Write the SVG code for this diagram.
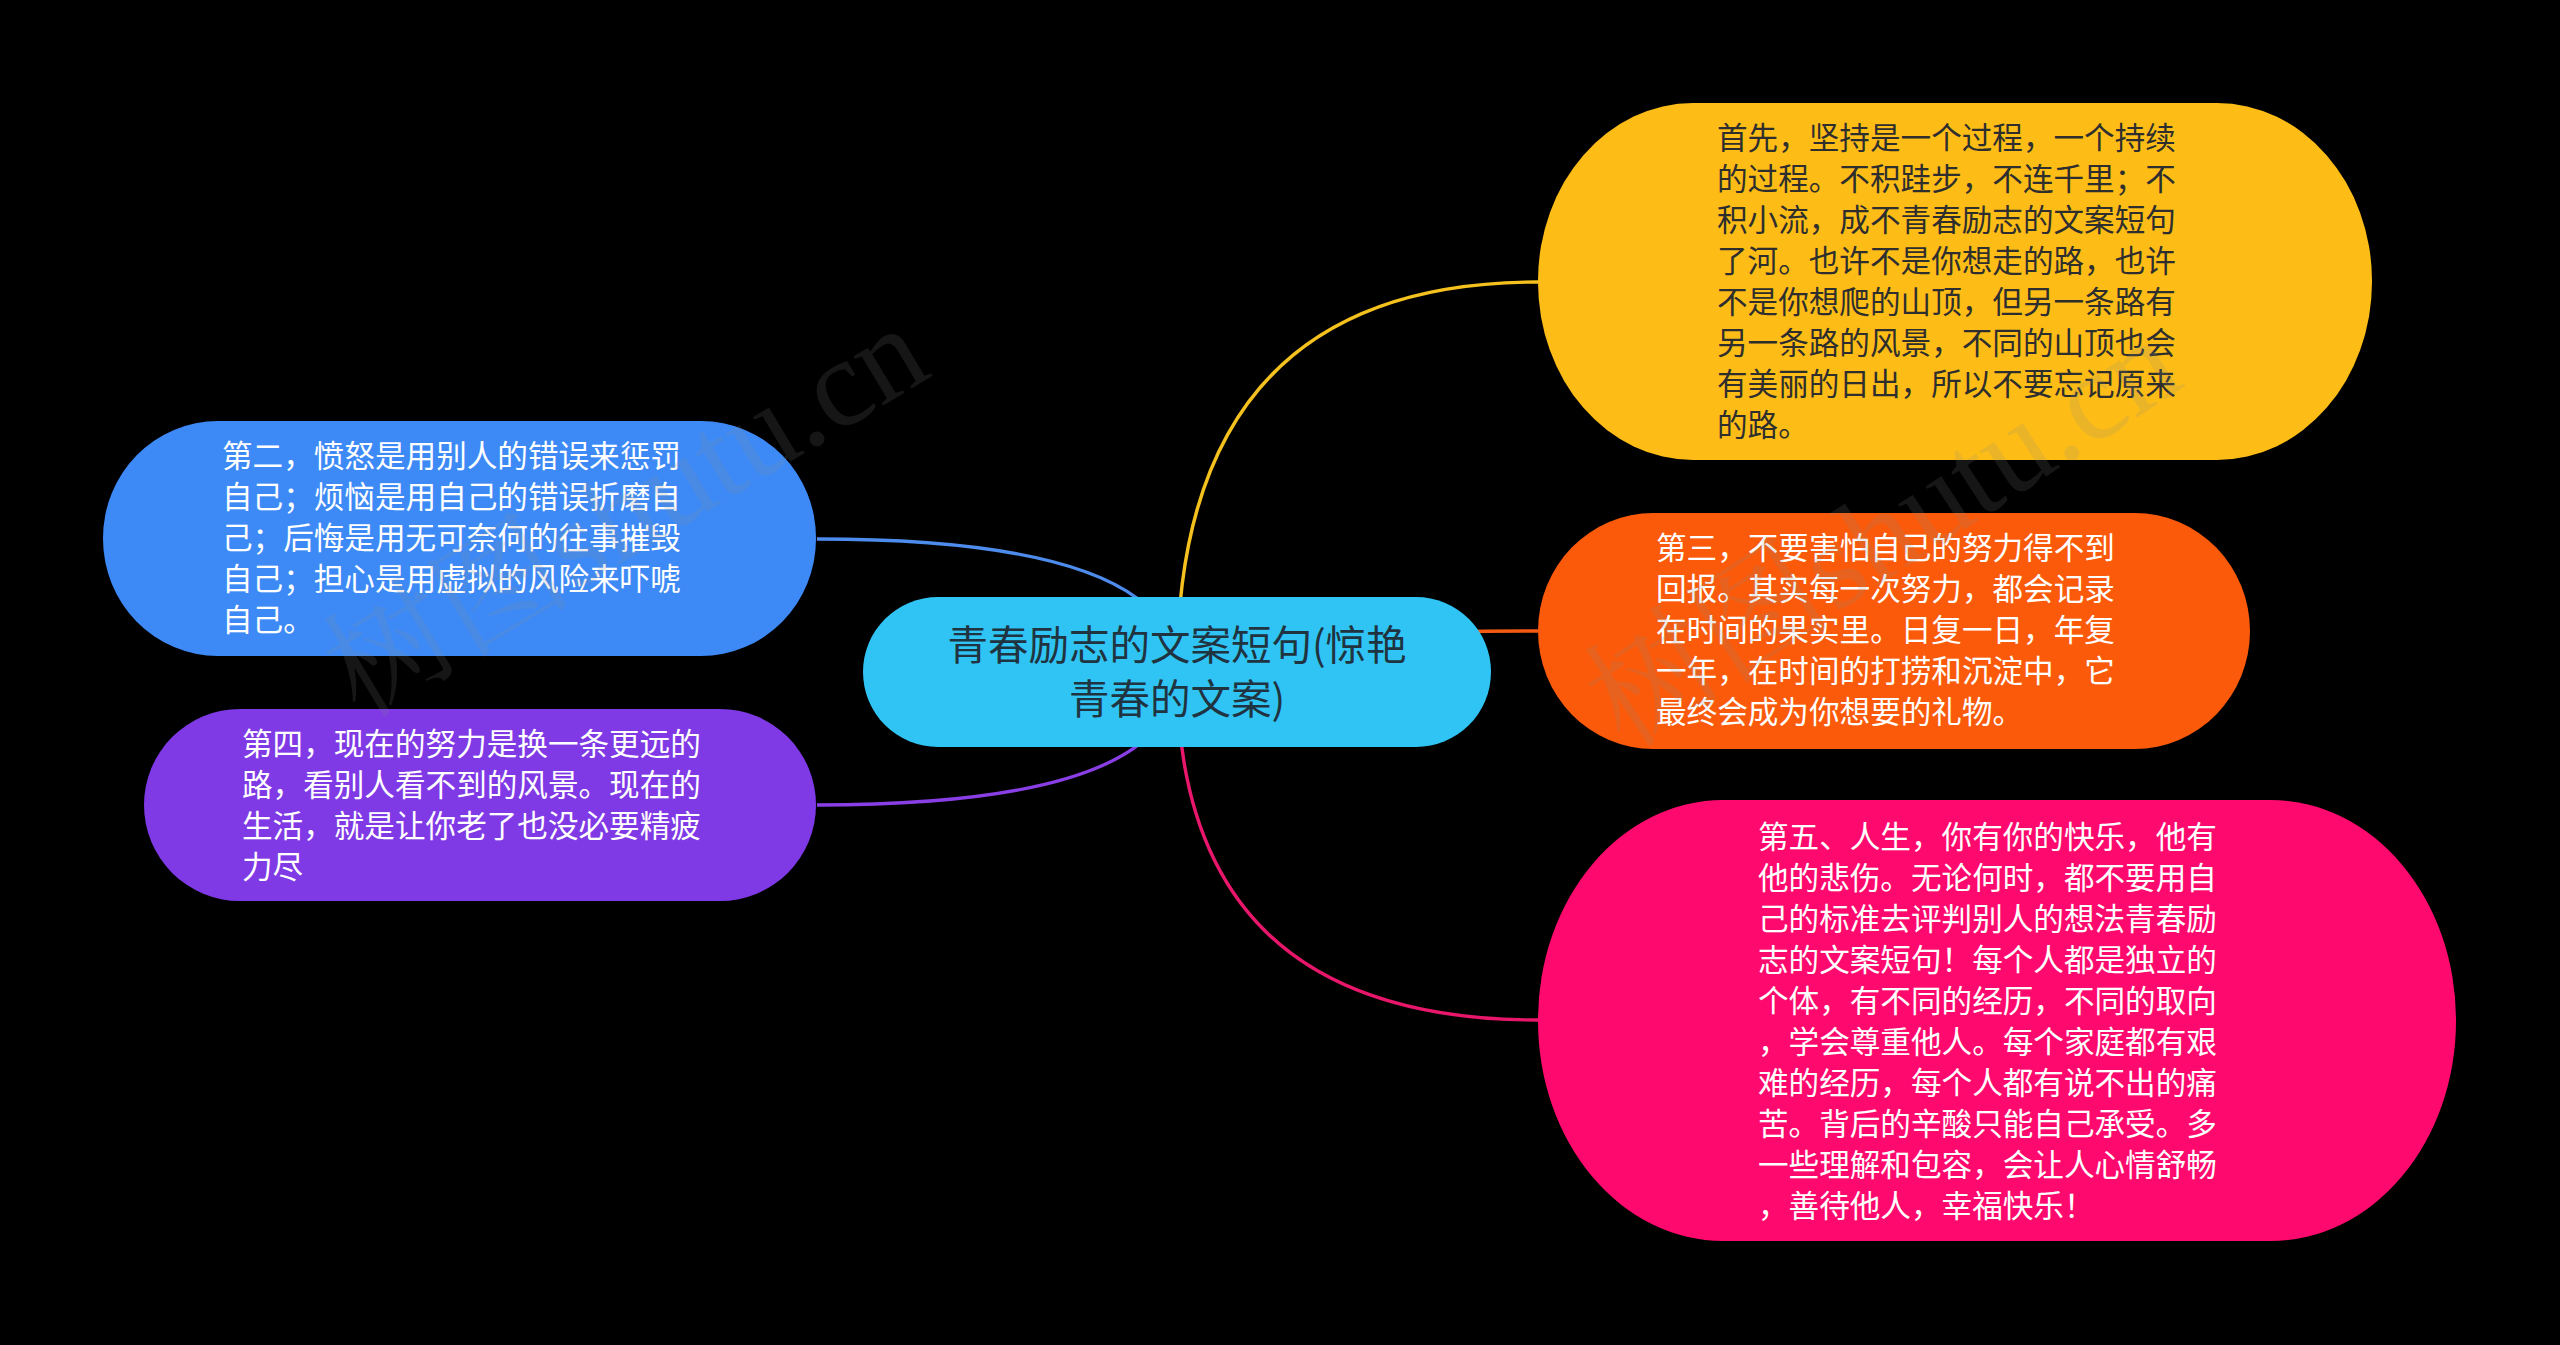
<svg xmlns="http://www.w3.org/2000/svg" width="2560" height="1345" viewBox="0 0 2560 1345">
<style>
.t{font-family:"Noto Sans CJK SC","Noto Sans",sans-serif;font-size:30.6px;fill:#ffffff}
.dk{fill:#2e2e2e}
.ct{font-family:"Noto Sans CJK SC","Noto Sans",sans-serif;font-size:40.5px;fill:#1f3440;text-anchor:middle}
.ln{fill:none;stroke-width:3.4}
.wm{font-family:"Liberation Serif","Noto Serif CJK SC","Noto Sans CJK SC",serif;font-size:125px;fill:#8a8a8a;opacity:0.16}
</style>
<rect width="2560" height="1345" fill="#000000"/>
<g id="connectors">
<path class="ln" stroke="#f5c11e" d="M1177,672 Q1177,282 1538,282"/>
<path class="ln" stroke="#f55a12" d="M1177,672 Q1177,631 1538,631"/>
<path class="ln" stroke="#e8176b" d="M1177,672 Q1177,1020 1538,1020"/>
<path class="ln" stroke="#4d8cec" d="M1177,672 Q1177,539 817,539"/>
<path class="ln" stroke="#8a3fe6" d="M1177,672 Q1177,805 817,805"/>
</g>
<g id="center">
<rect x="863" y="597" width="628" height="150" rx="75" ry="75" fill="#30c4f5"/>
<text class="ct" x="1177" y="660">青春励志的文案短句(惊艳</text>
<text class="ct" x="1177" y="714">青春的文案)</text>
</g>
<g id="node-yellow">
<rect x="1538" y="103" width="834" height="357" rx="155" ry="178" fill="#fdbd16"/>
<text class="t dk" x="1717" y="149">首先，坚持是一个过程，一个持续</text>
<text class="t dk" x="1717" y="190">的过程。不积跬步，不连千里；不</text>
<text class="t dk" x="1717" y="231">积小流，成不青春励志的文案短句</text>
<text class="t dk" x="1717" y="272">了河。也许不是你想走的路，也许</text>
<text class="t dk" x="1717" y="313">不是你想爬的山顶，但另一条路有</text>
<text class="t dk" x="1717" y="354">另一条路的风景，不同的山顶也会</text>
<text class="t dk" x="1717" y="395">有美丽的日出，所以不要忘记原来</text>
<text class="t dk" x="1717" y="436">的路。</text>
</g>
<g id="node-orange">
<rect x="1538" y="513" width="712" height="236" rx="115" ry="118" fill="#fa5a0a"/>
<text class="t" x="1656" y="559">第三，不要害怕自己的努力得不到</text>
<text class="t" x="1656" y="600">回报。其实每一次努力，都会记录</text>
<text class="t" x="1656" y="641">在时间的果实里。日复一日，年复</text>
<text class="t" x="1656" y="682">一年，在时间的打捞和沉淀中，它</text>
<text class="t" x="1656" y="723">最终会成为你想要的礼物。</text>
</g>
<g id="node-pink">
<rect x="1538" y="800" width="918" height="441" rx="185" ry="220" fill="#fe0a6e"/>
<text class="t" x="1758" y="848">第五、人生，你有你的快乐，他有</text>
<text class="t" x="1758" y="889">他的悲伤。无论何时，都不要用自</text>
<text class="t" x="1758" y="930">己的标准去评判别人的想法青春励</text>
<text class="t" x="1758" y="971">志的文案短句！每个人都是独立的</text>
<text class="t" x="1758" y="1012">个体，有不同的经历，不同的取向</text>
<text class="t" x="1758" y="1053">，学会尊重他人。每个家庭都有艰</text>
<text class="t" x="1758" y="1094">难的经历，每个人都有说不出的痛</text>
<text class="t" x="1758" y="1135">苦。背后的辛酸只能自己承受。多</text>
<text class="t" x="1758" y="1176">一些理解和包容，会让人心情舒畅</text>
<text class="t" x="1758" y="1217">，善待他人，幸福快乐！</text>
</g>
<g id="node-blue">
<rect x="103" y="421" width="713" height="235" rx="115" ry="117" fill="#3d8af7"/>
<text class="t" x="222" y="467">第二，愤怒是用别人的错误来惩罚</text>
<text class="t" x="222" y="508">自己；烦恼是用自己的错误折磨自</text>
<text class="t" x="222" y="549">己；后悔是用无可奈何的往事摧毁</text>
<text class="t" x="222" y="590">自己；担心是用虚拟的风险来吓唬</text>
<text class="t" x="222" y="631">自己。</text>
</g>
<g id="node-purple">
<rect x="144" y="709" width="672" height="192" rx="96" ry="96" fill="#7f3ae6"/>
<text class="t" x="242" y="755">第四，现在的努力是换一条更远的</text>
<text class="t" x="242" y="796">路，看别人看不到的风景。现在的</text>
<text class="t" x="242" y="837">生活，就是让你老了也没必要精疲</text>
<text class="t" x="242" y="878">力尽</text>
</g>
<g id="watermarks">
<text class="wm" transform="translate(360,720) rotate(-31)">树图shutu.cn</text>
<text class="wm" transform="translate(1625,750) rotate(-33)">树图shutu.cn</text>
</g>
</svg>
